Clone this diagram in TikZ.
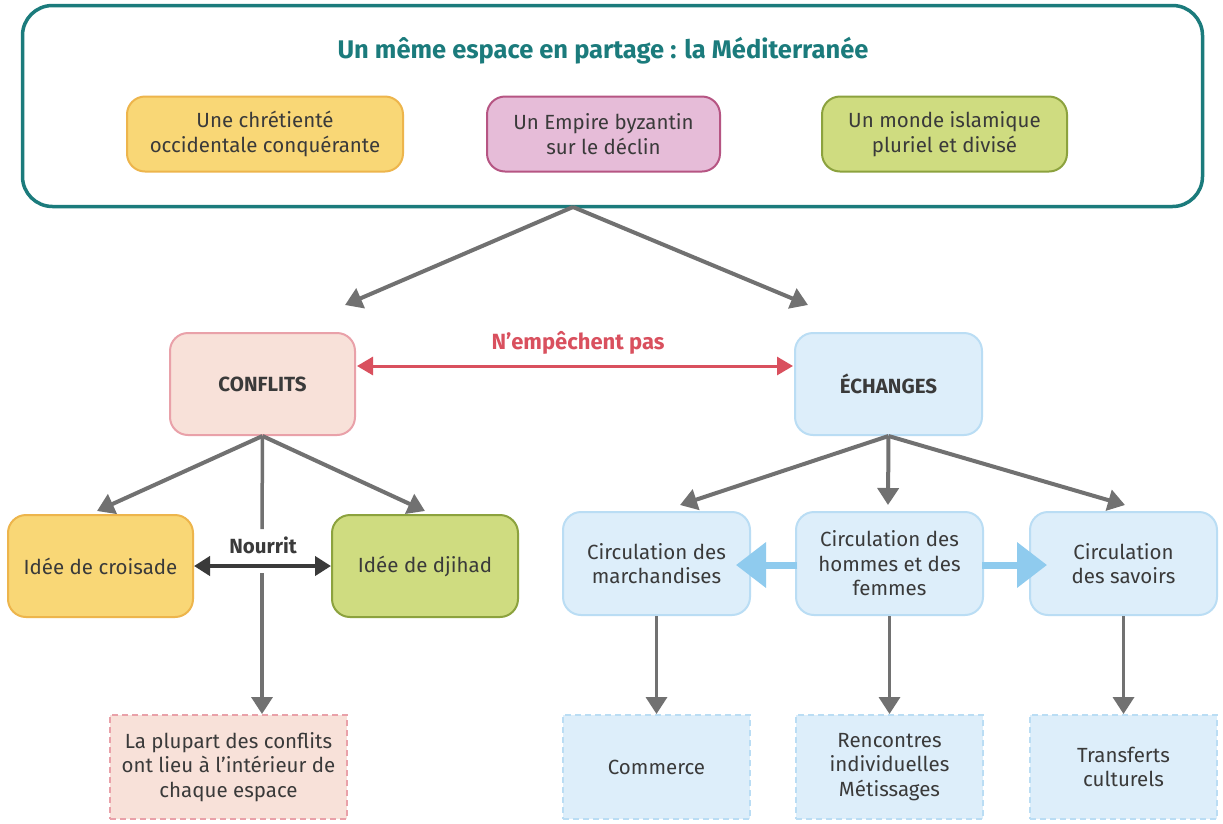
\documentclass[tikz,border=0pt]{standalone}
\usepackage{fontspec}
\setmainfont{Fira Sans}
\usetikzlibrary{arrows.meta}
\definecolor{teal1}{HTML}{1B7B7C}
\definecolor{txt}{HTML}{3A3A3A}
\definecolor{yfill}{HTML}{F9D776}
\definecolor{ydraw}{HTML}{EDB54C}
\definecolor{pfill}{HTML}{E6BCD8}
\definecolor{pdraw}{HTML}{B65583}
\definecolor{gfill}{HTML}{CFDC80}
\definecolor{gdraw}{HTML}{8CA23E}
\definecolor{rfill}{HTML}{F8E1D9}
\definecolor{rdraw}{HTML}{E9A1A9}
\definecolor{bfill}{HTML}{DDEEFA}
\definecolor{bdraw}{HTML}{BADDF4}
\definecolor{redline}{HTML}{D9505E}
\definecolor{garrow}{HTML}{717171}
\definecolor{barrow}{HTML}{8FCBEE}
\tikzset{
  box/.style={rectangle, rounded corners=18pt, line width=2pt, align=center, text=txt, font=\fontsize{20.5}{24.5}\selectfont},
  ybox/.style={box, fill=yfill, draw=ydraw},
  pbox/.style={box, fill=pfill, draw=pdraw},
  gbox/.style={box, fill=gfill, draw=gdraw},
  rbox/.style={box, fill=rfill, draw=rdraw},
  bbox/.style={box, fill=bfill, draw=bdraw},
  dashbox/.style={rectangle, line width=2pt, align=center, text=txt, font=\fontsize{20.5}{24.5}\selectfont, dash pattern=on 6pt off 4pt},
  garr/.style={draw=garrow, line width=4pt, -{Triangle[width=21pt,length=17pt]}, fill=garrow},
  barr/.style={draw=barrow, line width=7pt, -{Triangle[width=44pt,length=30pt]}},
}
\begin{document}
\begin{tikzpicture}[x=1pt,y=-1pt]
\useasboundingbox (0,0) rectangle (1223,823);
\fill[white] (0,0) rectangle (1223,823);
% top frame
\node[draw=teal1, line width=3.5pt, rounded corners=30pt, minimum width=1180pt, minimum height=201pt] (frame) at (612.5,106) {};
\node[font=\bfseries\fontsize{25.5}{30}\selectfont, text=teal1] (title) at (603,51) {Un même espace en partage : la Méditerranée};
\node[ybox, minimum width=276pt, minimum height=75pt] (chr) at (265,134) {Une chrétienté\\occidentale conquérante};
\node[pbox, minimum width=233pt, minimum height=75pt] (byz) at (603.5,134) {Un Empire byzantin\\sur le déclin};
\node[gbox, minimum width=245pt, minimum height=75pt] (isl) at (944.5,134) {Un monde islamique\\pluriel et divisé};
% level 2
\node[rbox, minimum width=185pt, minimum height=102pt] (conf) at (262.5,384) {\bfseries CONFLITS};
\node[bbox, minimum width=187pt, minimum height=102pt] (ech) at (888.5,384) {\bfseries ÉCHANGES};
\coordinate (top) at (573,207);
\coordinate (tl) at (345,305);
\coordinate (tr) at (808,305);
\draw[garr] (top) -- (tl);
\draw[garr] (top) -- (tr);
\coordinate (rl) at (357,366);
\coordinate (rr) at (793,366);
\draw[draw=redline, line width=3pt, {Triangle[width=18pt,length=16pt]}-{Triangle[width=18pt,length=16pt]}] (rl) -- (rr);
\node[font=\bfseries\fontsize{22}{26}\selectfont, text=redline] (nemp) at (578,343) {N’empêchent pas};
% conflicts branch
\node[ybox, minimum width=185pt, minimum height=102pt] (cro) at (100.5,566) {Idée de croisade};
\node[gbox, minimum width=186pt, minimum height=102pt] (dji) at (425,566) {Idée de djihad};
\node[dashbox, fill=rfill, draw=rdraw, minimum width=237pt, minimum height=104pt] (plup) at (228.5,767) {La plupart des conflits\\ont lieu à l’intérieur de\\chaque espace};
\coordinate (cl) at (97,511);
\coordinate (cr) at (425,511);
\draw[garr] (conf.south) -- (cl);
\draw[garr] (conf.south) -- (cr);
\node[font=\bfseries\fontsize{20.5}{24}\selectfont, text=txt, inner sep=2pt] (nour) at (263,545) {Nourrit};
\coordinate (gapstart) at (262,529);
\coordinate (gapend) at (262,573);
\draw[draw=garrow, line width=3.5pt] (conf.south) -- (gapstart);
\draw[garr, line width=3.5pt] (gapend) -- (gapend |- plup.north);
\draw[draw=txt, line width=4pt, {Triangle[width=19pt,length=16pt]}-{Triangle[width=19pt,length=16pt]}] (cro.east) -- (dji.west);
% exchanges branch
\node[bbox, minimum width=187pt, minimum height=103pt] (mar) at (656.5,563.5) {Circulation des\\marchandises};
\node[bbox, minimum width=187pt, minimum height=103pt] (hom) at (889.5,563.5) {Circulation des\\hommes et des\\femmes};
\node[bbox, minimum width=187pt, minimum height=103pt] (sav) at (1123.5,563.5) {Circulation\\des savoirs};
\coordinate (el) at (680,505);
\coordinate (em) at (888,505);
\coordinate (er) at (1125,505);
\draw[garr] (ech.south) -- (el);
\draw[garr] (ech.south) -- (em);
\draw[garr] (ech.south) -- (er);
\coordinate (mtip) at (736,565);
\coordinate (stip) at (1047,565);
\coordinate (hl) at (797,565);
\coordinate (hr) at (982,565);
\draw[barr] (hl) -- (mtip);
\draw[barr] (hr) -- (stip);
\node[dashbox, fill=bfill, draw=bdraw, minimum width=187pt, minimum height=104pt] (com) at (656.5,767) {Commerce};
\node[dashbox, fill=bfill, draw=bdraw, minimum width=187pt, minimum height=104pt] (ren) at (889.5,767) {Rencontres\\individuelles\\Métissages};
\node[dashbox, fill=bfill, draw=bdraw, minimum width=187pt, minimum height=104pt] (tra) at (1123.5,767) {Transferts\\culturels};
\draw[garr, line width=3.5pt] (mar.south) -- (com.north);
\draw[garr, line width=3.5pt] (hom.south) -- (ren.north);
\draw[garr, line width=3.5pt] (sav.south) -- (tra.north);
\end{tikzpicture}
\end{document}
